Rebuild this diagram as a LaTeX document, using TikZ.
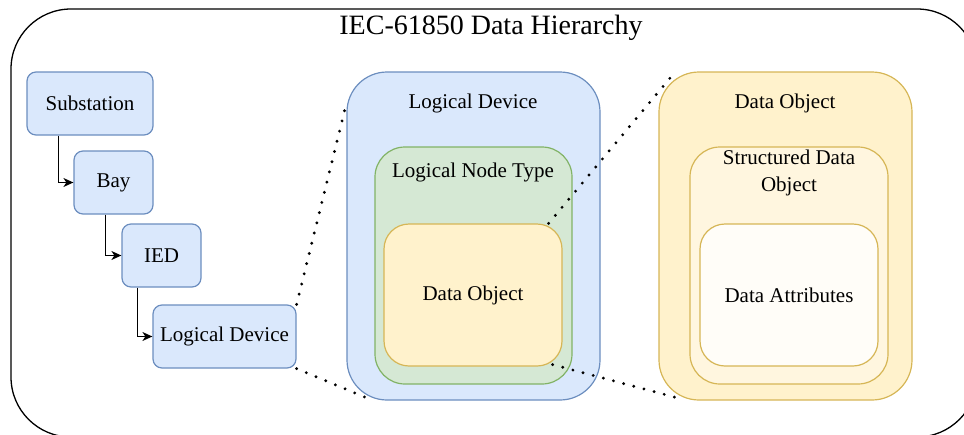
\documentclass[tikz,border=0pt]{standalone}
\usepackage{fontspec}
\setmainfont{Liberation Serif}
\newfontfamily\diagramfont{Liberation Serif}
\usepackage{tikz}
\usetikzlibrary{arrows.meta}

\definecolor{blueFill}{HTML}{DAE8FC}
\definecolor{blueLine}{HTML}{6C8EBF}
\definecolor{greenFill}{HTML}{D5E8D4}
\definecolor{greenLine}{HTML}{82B366}
\definecolor{yellowFill}{HTML}{FFF2CC}
\definecolor{yellowLine}{HTML}{D6B656}
\definecolor{paleFill}{HTML}{FFF6DF}
\definecolor{whiteFill}{HTML}{FFFDF8}

\begin{document}
\begin{tikzpicture}
[
                  x =  1pt,
                  y = -1pt,
                 >= {Stealth[length=10pt,width=9pt,inset=3pt]},
      frame/.style = { draw=black, line width=1.3pt, rounded corners=60pt },
      level/.style = { draw=blueLine, fill=blueFill, line width=1.2pt, rounded corners=9pt,
                       inner sep=0pt, minimum height=63pt, font=\diagramfont\fontsize{21}{27}\selectfont },
      group/.style = { line width=1.2pt, rounded corners=#1, inner sep=0pt,
                       font=\diagramfont\fontsize{21}{27}\selectfont },
       link/.style = { ->, draw=black, line width=1.3pt },
       zoom/.style = { draw=black, line width=3.2pt, line cap=round, dash pattern=on 0pt off 10.5pt },
   toplabel/.style = { draw=none, fill=none, anchor=center, align=center,
                       font=\diagramfont\fontsize{21}{27}\selectfont }
]

    \useasboundingbox (0,0) rectangle (964,434);

    \draw[frame] (11,9) rectangle (977,437);
    \node (Title) at (491,28) [toplabel, font=\diagramfont\fontsize{28}{34}\selectfont] {IEC-61850 Data Hierarchy};

    % hierarchy on the left
    \node (Substation) at (90,103.5)    [level, minimum width=126pt] {Substation};
    \node (Bay)        at (113.5,182.5) [level, minimum width=79pt]  {Bay};
    \node (IED)        at (161.5,255.5) [level, minimum width=79pt]  {IED};
    \node (Device)     at (224.5,336.5) [level, minimum width=143pt] {Logical Device};

    \draw[link] ([xshift=32pt]Substation.south west) |- (Bay.west);
    \draw[link] ([xshift=32pt]Bay.south west) |- (IED.west);
    \draw[link] ([xshift=16pt]IED.south west) |- (Device.west);

    % logical device zoom
    \node (DeviceBox)   at (473.5,236)   [group=40pt, draw=blueLine, fill=blueFill,
                                          minimum width=253pt, minimum height=328pt] {};
    \node (NodeTypeBox) at (473.5,265.5) [group=30pt, draw=greenLine, fill=greenFill,
                                          minimum width=197pt, minimum height=237pt] {};
    \node (ObjectBox)   at (473,295)     [group=25pt, draw=yellowLine, fill=yellowFill,
                                          minimum width=178pt, minimum height=142pt] {Data Object};

    \node (DeviceBoxLabel)   at (473,103) [toplabel] {Logical Device};
    \node (NodeTypeBoxLabel) at (473,172) [toplabel] {Logical Node Type};

    % data object zoom
    \node (DataBox)       at (785.5,236)   [group=40pt, draw=yellowLine, fill=yellowFill,
                                            minimum width=253pt, minimum height=328pt] {};
    \node (StructuredBox) at (789,265.5)   [group=30pt, draw=yellowLine, fill=paleFill,
                                            minimum width=198pt, minimum height=237pt] {};
    \node (AttributeBox)  at (789,295)     [group=25pt, draw=yellowLine, fill=whiteFill,
                                            minimum width=178pt, minimum height=142pt] {Data Attributes};

    \node (DataBoxLabel)       at (785,103)   [toplabel] {Data Object};
    \node (StructuredBoxLabel) at (789,172.5) [toplabel] {Structured Data\\Object};

    % dotted zoom lines
    \draw[zoom] (Device.north east) -- ([yshift=-32pt]DeviceBox.north west);
    \draw[zoom] (Device.south east) -- ([xshift=22pt,yshift=2pt]DeviceBox.south west);
    \draw[zoom] ([xshift=-14pt]ObjectBox.north east) -- ([xshift=13pt,yshift=-5pt]DataBox.north west);
    \draw[zoom] ([xshift=-10pt,yshift=2pt]ObjectBox.south east) -- ([xshift=18pt,yshift=3pt]DataBox.south west);

\end{tikzpicture}
\end{document}
